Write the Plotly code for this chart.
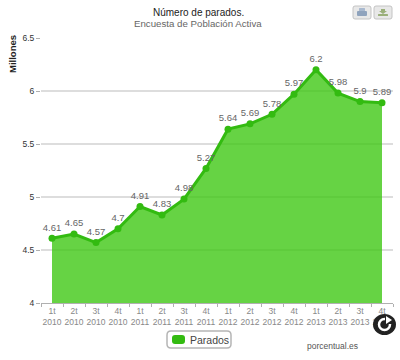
import plotly.graph_objects as go

quarters = ["1t", "2t", "3t", "4t"] * 4
years = [y for y in (2010, 2011, 2012, 2013) for _ in range(4)]
categories = [f"{q}<br>{y}" for q, y in zip(quarters, years)]
parados = [4.61, 4.65, 4.57, 4.7, 4.91, 4.83, 4.98, 5.27, 5.64, 5.69, 5.78, 5.97, 6.2, 5.98, 5.9, 5.89]
y_ticks = [4, 4.5, 5, 5.5, 6, 6.5]
y_labels = ["4", "4.5", "5", "5.5", "6", "6.5"]
FONT = "Liberation Sans, Arial, sans-serif"
W, H = 400, 360
xs = list(range(len(categories)))


def fx(x):
    return (x - 41) / 352


def fy(y):
    return (303 - y) / 265


fig = go.Figure()
fig.add_trace(go.Scatter(
    x=xs, y=parados, name="Parados", mode="lines+markers+text",
    text=[str(v) for v in parados], textposition="top center",
    textfont=dict(family=FONT, size=9.5, color="#666666"),
    line=dict(color="#33bb11", width=3),
    marker=dict(color="#33bb11", size=7),
    fill="tozeroy", fillcolor="rgba(64,200,21,0.8)",
    cliponaxis=False, showlegend=False,
))


def rrect(x0, y0, x1, y1, r, **kw):
    p = (f"M{fx(x0 + r)},{fy(y0)} L{fx(x1 - r)},{fy(y0)} Q{fx(x1)},{fy(y0)} {fx(x1)},{fy(y0 + r)} "
         f"L{fx(x1)},{fy(y1 - r)} Q{fx(x1)},{fy(y1)} {fx(x1 - r)},{fy(y1)} "
         f"L{fx(x0 + r)},{fy(y1)} Q{fx(x0)},{fy(y1)} {fx(x0)},{fy(y1 - r)} "
         f"L{fx(x0)},{fy(y0 + r)} Q{fx(x0)},{fy(y0)} {fx(x0 + r)},{fy(y0)} Z")
    fig.add_shape(type="path", path=p, xref="paper", yref="paper", layer="above", **kw)


def poly(points, **kw):
    p = "M" + " L".join(f"{fx(a)},{fy(b)}" for a, b in points) + " Z"
    fig.add_shape(type="path", path=p, xref="paper", yref="paper", layer="above", **kw)


# export buttons
for bx in (353, 374):
    rrect(bx, 6, bx + 18, 19, 2, fillcolor="#e8e8e8", line=dict(color="#c4c4c4", width=1))
rrect(357, 11, 367, 16, 1, fillcolor="#8fa3bd", line=dict(width=0))
rrect(359, 8, 365, 11, 0.5, fillcolor="#a9b9cf", line=dict(width=0))
rrect(378, 14, 388, 16, 0.5, fillcolor="#9aaf7a", line=dict(width=0))
poly([(381, 9), (385, 9), (385, 11), (387, 11), (383, 14), (379, 11), (381, 11)],
     fillcolor="#9aaf7a", line=dict(width=0))

# legend box
rrect(167, 331, 231, 348, 4, fillcolor="white", line=dict(color="#b5b5b5", width=1.5))
rrect(172, 335, 185, 344, 3, fillcolor="#33bb11", line=dict(width=0))

# refresh badge
fig.add_shape(type="circle", xref="paper", yref="paper", layer="above",
              x0=fx(373), x1=fx(396), y0=fy(335), y1=fy(314),
              fillcolor="#222222", line=dict(width=0))
fig.add_shape(type="circle", xref="paper", yref="paper", layer="above",
              x0=fx(379), x1=fx(390), y0=fy(330), y1=fy(319),
              fillcolor="rgba(0,0,0,0)", line=dict(color="white", width=2.5))
poly([(385, 317), (392, 317), (392, 324), (385, 324)], fillcolor="#222222", line=dict(width=0))
poly([(386, 316), (392, 320), (386, 324)], fillcolor="white", line=dict(width=0))

fig.update_layout(
    width=W, height=H, autosize=False,
    margin=dict(l=41, r=7, t=38, b=57),
    paper_bgcolor="white", plot_bgcolor="white",
    font=dict(family=FONT),
    xaxis=dict(range=[-0.5, 15.5], tickmode="array", tickvals=xs, ticktext=categories,
               tickfont=dict(size=8.5, color="#888888", family=FONT),
               showgrid=False, zeroline=False, showline=True, linecolor="#b0b0b0",
               ticks="", tickangle=0,
               minor=dict(tickmode="linear", tick0=-0.5, dtick=1, ticks="outside", ticklen=3,
                          tickcolor="#b0b0b0", showgrid=False)),
    yaxis=dict(range=[4, 6.5], tickmode="array", tickvals=y_ticks, ticktext=y_labels,
               tickfont=dict(size=8.5, color="#333333", family=FONT),
               gridcolor="#dddddd", gridwidth=1.5, zeroline=False, showline=False,
               ticks="outside", ticklen=4, tickcolor="#b0b0b0"),
    showlegend=False,
    annotations=[
        dict(text="Número de parados.", xref="paper", yref="paper",
             x=fx(198), y=fy(12.5), showarrow=False, xanchor="center", yanchor="middle",
             font=dict(size=10, color="#222222", family=FONT)),
        dict(text="Encuesta de Población Activa", xref="paper", yref="paper",
             x=fx(198), y=fy(23.5), showarrow=False, xanchor="center", yanchor="middle",
             font=dict(size=9.7, color="#666666", family=FONT)),
        dict(text="<b>Millones</b>", xref="paper", yref="paper", textangle=-90,
             x=fx(12), y=fy(54), showarrow=False, xanchor="center", yanchor="middle",
             font=dict(size=9.5, color="#222222", family=FONT)),
        dict(text="Parados", xref="paper", yref="paper",
             x=fx(188), y=fy(339.5), showarrow=False, xanchor="left", yanchor="middle",
             font=dict(size=10.5, color="#444444", family=FONT)),
        dict(text="porcentual.es", xref="paper", yref="paper",
             x=fx(360), y=fy(346), showarrow=False, xanchor="right", yanchor="middle",
             font=dict(size=8.5, color="#555555", family=FONT)),
    ],
)
fig.write_html("out.html", config={"displayModeBar": False},
               post_script="document.body.style.margin='0';document.body.style.overflow='hidden';")
